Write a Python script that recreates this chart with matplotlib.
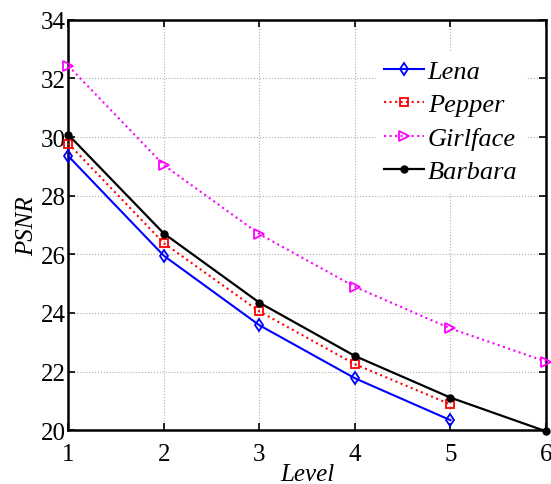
import matplotlib
matplotlib.use("Agg")
import matplotlib.pyplot as plt

# ── data ─────────────────────────────────────────────────────────────────────
levels    = [1, 2, 3, 4, 5, 6]
lena      = [29.35, 25.95, 23.58, 21.77, 20.34]
pepper    = [29.78, 26.38, 24.05, 22.25, 20.88]
girlface  = [32.43, 29.04, 26.69, 24.89, 23.47, 22.34]
barbara   = [30.08, 26.71, 24.35, 22.53, 21.11, 19.96]

plt.rcParams["font.family"] = "Liberation Serif"

fig = plt.figure(figsize=(5.51, 4.85), dpi=100)
ax = fig.add_axes([0.124, 0.111, 0.867, 0.846])

ax.plot(levels[:5], lena, color="blue", lw=1.5, marker="d", ms=6,
        mfc="none", mew=1.3, label="Lena", clip_on=False, zorder=4)
ax.plot(levels[:5], pepper, color="red", lw=1.5, ls=":", marker="s", ms=5.5,
        mfc="none", mew=1.3, label="Pepper", clip_on=False, zorder=4)
ax.plot(levels, girlface, color="magenta", lw=1.5, ls=":", marker=">", ms=7,
        mfc="none", mew=1.3, label="Girlface", clip_on=False, zorder=4)
ax.plot(levels, barbara, color="black", lw=1.6, marker="o", ms=5,
        label="Barbara", clip_on=False, zorder=5)

ax.set_xlim(1, 6)
ax.set_ylim(20, 34)
ax.set_xticks(levels)
ax.set_yticks(range(20, 35, 2))
ax.grid(True, color="#b0b0b0", ls=":", lw=0.8)
ax.tick_params(direction="in", top=True, right=True, length=5, width=1.2,
               labelsize=18)
ax.tick_params(axis="y", pad=2)
ax.tick_params(axis="x", pad=9)
for sp in ax.spines.values():
    sp.set_linewidth(1.8)

ax.set_xlabel("Level", fontsize=18, style="italic", labelpad=-1)
ax.set_ylabel("PSNR", fontsize=18, style="italic", labelpad=2)

leg = ax.legend(loc="upper left", bbox_to_anchor=(0.617, 0.955), frameon=True,
                edgecolor="white", facecolor="white", framealpha=1,
                prop={"family": "Liberation Serif", "style": "italic", "size": 19},
                handlelength=1.5, handletextpad=0.15, labelspacing=0.38,
                borderpad=0.3, fancybox=False)

fig.savefig("out.png", dpi=100)
